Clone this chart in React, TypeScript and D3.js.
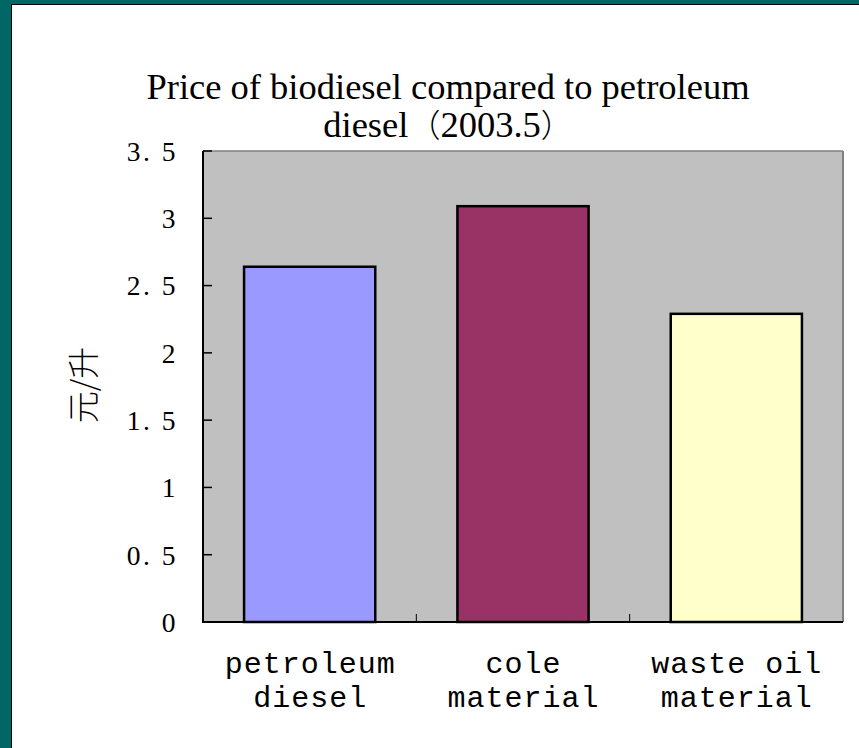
import React from "react";
import * as d3 from "d3";

const categories = ["petroleum diesel", "cole material", "waste oil material"];
const labelLines = [["petroleum", "diesel"], ["cole", "material"], ["waste oil", "material"]];
const values = [2.64, 3.09, 2.29];
const barColors = ["#9999FF", "#993366", "#FFFFCC"];
const yTicks = [0, 0.5, 1, 1.5, 2, 2.5, 3, 3.5];
const yTickLabels = ["0", "0. 5", "1", "1. 5", "2", "2. 5", "3", "3. 5"];
const titleLine1 = "Price of biodiesel compared to petroleum";
const titleLine2 = ["diesel", "（", "2003.5", "）"];
const yTitle = "元/升";

const W = 859;
const H = 748;
const plot = { left: 203, right: 843, top: 151, bottom: 622 };
const serif = "'Liberation Serif', 'Times New Roman', serif";
const cjk = "'Noto Sans CJK SC', sans-serif";
const TITLE_SIZE = 36.5;
const PAREN_SIZE = 32;
// approximate advance widths (em) and font sizes of the pieces of line 2
const line2Em = [2.333, 1, 2.75, 1];
const line2Size = [TITLE_SIZE, PAREN_SIZE, TITLE_SIZE, PAREN_SIZE];

export default function App() {
  const x = d3
    .scaleBand<string>()
    .domain(categories)
    .range([plot.left, plot.right])
    .paddingInner(0.385)
    .paddingOuter(0.1925);
  const y = d3.scaleLinear().domain([0, 3.5]).range([plot.bottom, plot.top]);
  const step = x.step();
  const boundaries = categories.slice(1).map((c) => (x(c) as number) - (step - x.bandwidth()) / 2);

  const widths = line2Em.map((em, i) => em * line2Size[i]);
  const total = d3.sum(widths);
  let cursor = 448 - total / 2;
  const line2Pos = widths.map((w) => {
    const p = cursor;
    cursor += w;
    return p;
  });

  return (
    <svg
      width={W}
      height={H}
      style={{ position: "absolute", left: 0, top: 0, display: "block" }}
    >
      <rect x={0} y={0} width={W} height={H} fill="#006666" />
      <rect x={11} y={4} width={W - 11} height={H - 4} fill="#000" />
      <rect x={12} y={5} width={W - 12} height={H - 5} fill="#fff" />

      <text x={448} y={99} textAnchor="middle" fontFamily={serif} fontSize={TITLE_SIZE} fill="#000">
        {titleLine1}
      </text>
      {titleLine2.map((t, i) => (
        <text
          key={i}
          x={line2Pos[i]}
          y={137}
          fontSize={line2Size[i]}
          fontFamily={i % 2 === 1 ? cjk : serif}
          fontWeight={i % 2 === 1 ? 300 : 400}
          fill="#000"
        >
          {t}
        </text>
      ))}

      <rect
        x={plot.left}
        y={plot.top}
        width={plot.right - plot.left}
        height={plot.bottom - plot.top}
        fill="#C0C0C0"
      />
      <line x1={plot.left} x2={plot.right} y1={plot.top} y2={plot.top} stroke="#808080" strokeWidth={1.5} />
      <line x1={plot.right} x2={plot.right} y1={plot.top} y2={plot.bottom} stroke="#808080" strokeWidth={2} />

      {values.map((v, i) => (
        <rect
          key={i}
          x={x(categories[i])}
          y={y(v)}
          width={x.bandwidth()}
          height={y(0) - y(v)}
          fill={barColors[i]}
          stroke="#000"
          strokeWidth={2.5}
        />
      ))}

      <line x1={plot.left} x2={plot.left} y1={plot.top} y2={plot.bottom + 1} stroke="#000" strokeWidth={2} />
      <line x1={plot.left - 1} x2={plot.right} y1={plot.bottom} y2={plot.bottom} stroke="#000" strokeWidth={2} />

      {yTicks.map((t, i) => (
        <g key={i}>
          <line x1={plot.left} x2={plot.left + 9} y1={y(t)} y2={y(t)} stroke="#000" strokeWidth={1.5} />
          <text
            x={178}
            y={y(t)}
            dy="0.36em"
            textAnchor="end"
            fontFamily={serif}
            fontSize={27.5}
            letterSpacing={2.5}
            style={{ whiteSpace: "pre" }}
            fill="#000"
          >
            {yTickLabels[i]}
          </text>
        </g>
      ))}

      {boundaries.map((b, i) => (
        <line key={i} x1={b} x2={b} y1={plot.bottom} y2={plot.bottom - 8} stroke="#000" strokeWidth={1} />
      ))}

      {categories.map((c, i) => (
        <text
          key={c}
          textAnchor="middle"
          fontFamily="'Liberation Mono', monospace"
          fontSize={30}
          letterSpacing={1}
          style={{ whiteSpace: "pre" }}
          fill="#000"
        >
          {labelLines[i].map((l, j) => (
            <tspan key={j} x={(x(c) as number) + x.bandwidth() / 2 + 0.5} y={673 + j * 34}>
              {l}
            </tspan>
          ))}
        </text>
      ))}

      <text
        transform={`translate(95, 385) rotate(-90)`}
        textAnchor="middle"
        fontFamily={cjk}
        fontSize={32}
        fontWeight={300}
        fill="#000"
      >
        {yTitle}
      </text>
    </svg>
  );
}
